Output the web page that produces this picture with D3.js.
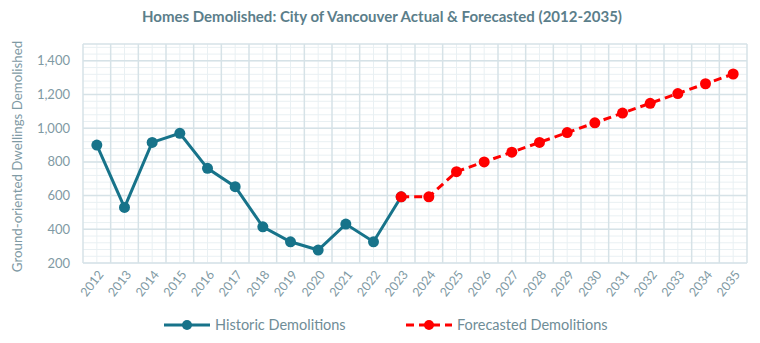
<!DOCTYPE html>
<html>
<head>
<meta charset="utf-8">
<script src="https://cdn.jsdelivr.net/npm/d3@7"></script>
<style>
  body { margin: 0; background: #fff; }
  text { font-family: Lato, "Open Sans", sans-serif; }
</style>
</head>
<body>
<svg id="chart" width="760" height="343"></svg>
<script>
const years = d3.range(2012, 2036).map(String);
const historicYears = ["2012","2013","2014","2015","2016","2017","2018","2019","2020","2021","2022","2023"];
const historicValues = [900, 530, 916, 970, 762, 653, 415, 326, 277, 431, 326, 593];
const forecastYears = ["2023","2024","2025","2026","2027","2028","2029","2030","2031","2032","2033","2034","2035"];
const forecastValues = [593, 593, 742, 800, 858, 916, 974, 1032, 1090, 1148, 1206, 1264, 1322];
const yTicks = [200, 400, 600, 800, 1000, 1200, 1400];

const svg = d3.select("#chart"),
  margin = {top: 44, right: 13, bottom: 80, left: 83},
  width = +svg.attr("width") - margin.left - margin.right,
  height = +svg.attr("height") - margin.top - margin.bottom,
  g = svg.append("g").attr("transform", `translate(${margin.left},${margin.top})`);

const teal = "#17738a", red = "#ff0000", textCol = "#7f9aa4";

const x = d3.scaleBand().domain(years).range([0, width]);
const y = d3.scaleLinear().domain([200, 1500]).range([height, 0]);
const cx = d => x(d) + x.bandwidth() / 2;

// grid: minor horizontal every 40, major every 200
const minorY = d3.range(200, 1501, 40);
g.append("g").selectAll("line").data(minorY).join("line")
  .attr("x1", 0).attr("x2", width)
  .attr("y1", d => y(d)).attr("y2", d => y(d))
  .attr("stroke", "#e9f0f3").attr("stroke-width", 1);
g.append("g").selectAll("line").data(years).join("line")
  .attr("x1", d => cx(d)).attr("x2", d => cx(d))
  .attr("y1", 0).attr("y2", height)
  .attr("stroke", "#e9f0f3").attr("stroke-width", 1);
g.append("g").selectAll("line").data(yTicks.concat([1500])).join("line")
  .attr("x1", 0).attr("x2", width)
  .attr("y1", d => y(d)).attr("y2", d => y(d))
  .attr("stroke", "#d6e2e7").attr("stroke-width", 1.5);
g.append("g").selectAll("line").data(years.concat(["end"])).join("line")
  .attr("x1", d => d === "end" ? width : x(d)).attr("x2", d => d === "end" ? width : x(d))
  .attr("y1", 0).attr("y2", height)
  .attr("stroke", "#d6e2e7").attr("stroke-width", 1.5);

// y axis labels
g.append("g").selectAll("text").data(yTicks).join("text")
  .attr("x", -13).attr("y", d => y(d)).attr("dy", "0.35em")
  .attr("text-anchor", "end").attr("fill", textCol).attr("font-size", 13)
  .text(d => d3.format(",")(d));

// x axis labels
g.append("g").selectAll("text").data(years).join("text")
  .attr("transform", d => `translate(${cx(d) + 4},${height + 9}) rotate(-52)`)
  .attr("text-anchor", "end").attr("dy", "0.35em")
  .attr("fill", textCol).attr("font-size", 12.5)
  .text(d => d);

const hist = historicYears.map((d, i) => ({year: d, value: historicValues[i]}));
const fore = forecastYears.map((d, i) => ({year: d, value: forecastValues[i]}));
const line = d3.line().x(d => cx(d.year)).y(d => y(d.value));

g.append("path").datum(hist)
  .attr("fill", "none").attr("stroke", teal).attr("stroke-width", 3)
  .attr("d", line);
g.append("g").selectAll("circle").data(hist).join("circle")
  .attr("cx", d => cx(d.year)).attr("cy", d => y(d.value)).attr("r", 5.5)
  .attr("fill", teal);

g.append("path").datum(fore)
  .attr("fill", "none").attr("stroke", red).attr("stroke-width", 3)
  .attr("stroke-dasharray", "8,5")
  .attr("d", line);
g.append("g").selectAll("circle").data(fore).join("circle")
  .attr("cx", d => cx(d.year)).attr("cy", d => y(d.value)).attr("r", 5.5)
  .attr("fill", red);

// title
svg.append("text")
  .attr("x", 382).attr("y", 22)
  .attr("text-anchor", "middle").attr("fill", "#5b7e8a")
  .attr("font-size", 15).attr("font-weight", "bold")
  .text("Homes Demolished: City of Vancouver Actual & Forecasted (2012-2035)");

// y title
svg.append("text")
  .attr("transform", `translate(22,${margin.top + height / 2 + 3}) rotate(-90)`)
  .attr("text-anchor", "middle").attr("fill", textCol).attr("font-size", 13.3)
  .text("Ground-oriented Dwellings Demolished");

// legend
const legend = [
  {label: "Historic Demolitions", color: teal, dash: null, x: 164},
  {label: "Forecasted Demolitions", color: red, dash: "8,5", x: 406}
];
const lg = svg.append("g").attr("transform", "translate(0,325)");
legend.forEach(l => {
  lg.append("line").attr("x1", l.x).attr("x2", l.x + 46).attr("y1", 0).attr("y2", 0)
    .attr("stroke", l.color).attr("stroke-width", 3)
    .attr("stroke-dasharray", l.dash);
  lg.append("circle").attr("cx", l.x + 23).attr("cy", 0).attr("r", 5).attr("fill", l.color);
  lg.append("text").attr("x", l.x + 51).attr("y", 0).attr("dy", "0.35em")
    .attr("fill", "#6f8d97").attr("font-size", 14.5).text(l.label);
});
</script>
</body>
</html>
